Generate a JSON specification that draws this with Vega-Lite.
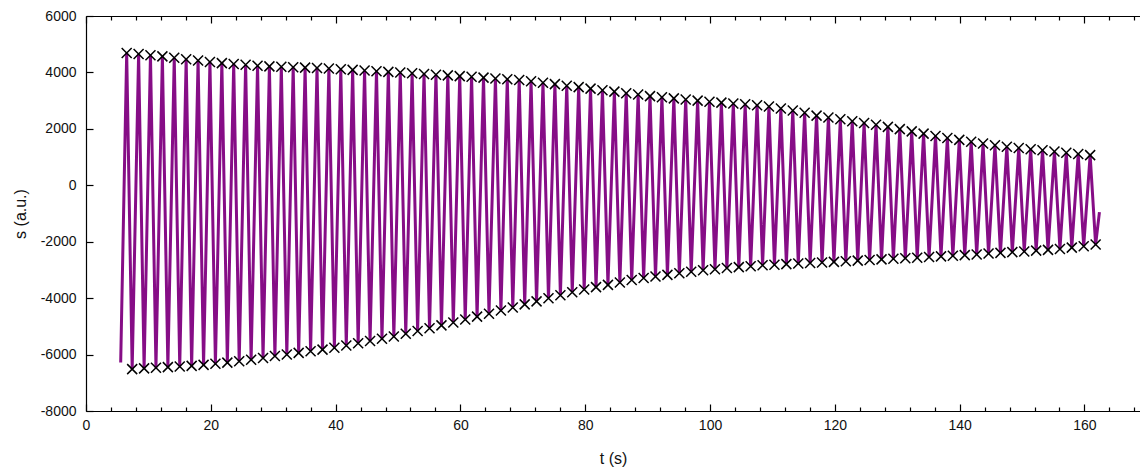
{
  "$schema": "https://vega.github.io/schema/vega-lite/v6.json",
  "autosize": "none",
  "width": 1054,
  "height": 395,
  "padding": {"left": 86, "top": 16, "right": 0, "bottom": 59},
  "background": "white",
  "view": {"stroke": null},
  "config": {
    "font": "Liberation Sans",
    "axis": {
      "labelFont": "Liberation Sans", "labelFontSize": 14, "labelColor": "#111",
      "titleFont": "Liberation Sans", "titleFontSize": 16, "titleFontWeight": "normal", "titleColor": "#111",
      "domainColor": "#000", "domainWidth": 1.2, "tickColor": "#000", "tickWidth": 1.2, "grid": false
    }
  },
  "data": {"values": [
    {"t":5.56,"s":-6280,"m":0},
    {"t":6.52,"s":4690,"m":1},{"t":7.40,"s":-6515,"m":1},
    {"t":8.43,"s":4650,"m":1},{"t":9.31,"s":-6490,"m":1},
    {"t":10.33,"s":4610,"m":1},{"t":11.21,"s":-6470,"m":1},
    {"t":12.24,"s":4570,"m":1},{"t":13.12,"s":-6445,"m":1},
    {"t":14.14,"s":4520,"m":1},{"t":15.02,"s":-6425,"m":1},
    {"t":16.05,"s":4470,"m":1},{"t":16.93,"s":-6400,"m":1},
    {"t":17.96,"s":4420,"m":1},{"t":18.84,"s":-6365,"m":1},
    {"t":19.86,"s":4370,"m":1},{"t":20.74,"s":-6325,"m":1},
    {"t":21.77,"s":4330,"m":1},{"t":22.65,"s":-6285,"m":1},
    {"t":23.67,"s":4300,"m":1},{"t":24.55,"s":-6235,"m":1},
    {"t":25.58,"s":4270,"m":1},{"t":26.46,"s":-6185,"m":1},
    {"t":27.49,"s":4240,"m":1},{"t":28.37,"s":-6120,"m":1},
    {"t":29.39,"s":4215,"m":1},{"t":30.27,"s":-6050,"m":1},
    {"t":31.30,"s":4200,"m":1},{"t":32.18,"s":-5995,"m":1},
    {"t":33.20,"s":4185,"m":1},{"t":34.08,"s":-5940,"m":1},
    {"t":35.11,"s":4170,"m":1},{"t":35.99,"s":-5880,"m":1},
    {"t":37.02,"s":4155,"m":1},{"t":37.90,"s":-5825,"m":1},
    {"t":38.92,"s":4140,"m":1},{"t":39.80,"s":-5760,"m":1},
    {"t":40.83,"s":4115,"m":1},{"t":41.71,"s":-5680,"m":1},
    {"t":42.73,"s":4090,"m":1},{"t":43.61,"s":-5600,"m":1},
    {"t":44.64,"s":4065,"m":1},{"t":45.52,"s":-5520,"m":1},
    {"t":46.55,"s":4045,"m":1},{"t":47.43,"s":-5440,"m":1},
    {"t":48.45,"s":4020,"m":1},{"t":49.33,"s":-5360,"m":1},
    {"t":50.36,"s":3995,"m":1},{"t":51.24,"s":-5265,"m":1},
    {"t":52.26,"s":3970,"m":1},{"t":53.14,"s":-5165,"m":1},
    {"t":54.17,"s":3945,"m":1},{"t":55.05,"s":-5065,"m":1},
    {"t":56.08,"s":3920,"m":1},{"t":56.96,"s":-4965,"m":1},
    {"t":57.98,"s":3895,"m":1},{"t":58.86,"s":-4860,"m":1},
    {"t":59.89,"s":3870,"m":1},{"t":60.77,"s":-4760,"m":1},
    {"t":61.79,"s":3845,"m":1},{"t":62.67,"s":-4655,"m":1},
    {"t":63.70,"s":3815,"m":1},{"t":64.58,"s":-4550,"m":1},
    {"t":65.61,"s":3785,"m":1},{"t":66.49,"s":-4440,"m":1},
    {"t":67.51,"s":3760,"m":1},{"t":68.39,"s":-4330,"m":1},
    {"t":69.42,"s":3730,"m":1},{"t":70.30,"s":-4220,"m":1},
    {"t":71.32,"s":3685,"m":1},{"t":72.20,"s":-4115,"m":1},
    {"t":73.23,"s":3635,"m":1},{"t":74.11,"s":-4005,"m":1},
    {"t":75.14,"s":3585,"m":1},{"t":76.02,"s":-3900,"m":1},
    {"t":77.04,"s":3530,"m":1},{"t":77.92,"s":-3790,"m":1},
    {"t":78.95,"s":3480,"m":1},{"t":79.83,"s":-3695,"m":1},
    {"t":80.85,"s":3425,"m":1},{"t":81.73,"s":-3610,"m":1},
    {"t":82.76,"s":3370,"m":1},{"t":83.64,"s":-3530,"m":1},
    {"t":84.67,"s":3320,"m":1},{"t":85.55,"s":-3445,"m":1},
    {"t":86.57,"s":3265,"m":1},{"t":87.45,"s":-3360,"m":1},
    {"t":88.48,"s":3215,"m":1},{"t":89.36,"s":-3285,"m":1},
    {"t":90.38,"s":3160,"m":1},{"t":91.26,"s":-3230,"m":1},
    {"t":92.29,"s":3120,"m":1},{"t":93.17,"s":-3175,"m":1},
    {"t":94.20,"s":3080,"m":1},{"t":95.08,"s":-3120,"m":1},
    {"t":96.10,"s":3040,"m":1},{"t":96.98,"s":-3065,"m":1},
    {"t":98.01,"s":3000,"m":1},{"t":98.89,"s":-3010,"m":1},
    {"t":99.91,"s":2960,"m":1},{"t":100.79,"s":-2975,"m":1},
    {"t":101.82,"s":2930,"m":1},{"t":102.70,"s":-2935,"m":1},
    {"t":103.73,"s":2900,"m":1},{"t":104.61,"s":-2900,"m":1},
    {"t":105.63,"s":2870,"m":1},{"t":106.51,"s":-2870,"m":1},
    {"t":107.54,"s":2840,"m":1},{"t":108.42,"s":-2835,"m":1},
    {"t":109.44,"s":2790,"m":1},{"t":110.32,"s":-2815,"m":1},
    {"t":111.35,"s":2720,"m":1},{"t":112.23,"s":-2795,"m":1},
    {"t":113.26,"s":2650,"m":1},{"t":114.14,"s":-2775,"m":1},
    {"t":115.16,"s":2570,"m":1},{"t":116.04,"s":-2755,"m":1},
    {"t":117.07,"s":2470,"m":1},{"t":117.95,"s":-2735,"m":1},
    {"t":118.97,"s":2400,"m":1},{"t":119.85,"s":-2715,"m":1},
    {"t":120.88,"s":2340,"m":1},{"t":121.76,"s":-2695,"m":1},
    {"t":122.79,"s":2270,"m":1},{"t":123.67,"s":-2670,"m":1},
    {"t":124.69,"s":2210,"m":1},{"t":125.57,"s":-2650,"m":1},
    {"t":126.60,"s":2145,"m":1},{"t":127.48,"s":-2625,"m":1},
    {"t":128.50,"s":2070,"m":1},{"t":129.38,"s":-2605,"m":1},
    {"t":130.41,"s":1990,"m":1},{"t":131.29,"s":-2585,"m":1},
    {"t":132.32,"s":1910,"m":1},{"t":133.20,"s":-2565,"m":1},
    {"t":134.22,"s":1830,"m":1},{"t":135.10,"s":-2545,"m":1},
    {"t":136.13,"s":1750,"m":1},{"t":137.01,"s":-2520,"m":1},
    {"t":138.03,"s":1675,"m":1},{"t":138.91,"s":-2500,"m":1},
    {"t":139.94,"s":1610,"m":1},{"t":140.82,"s":-2475,"m":1},
    {"t":141.85,"s":1545,"m":1},{"t":142.73,"s":-2450,"m":1},
    {"t":143.75,"s":1480,"m":1},{"t":144.63,"s":-2420,"m":1},
    {"t":145.66,"s":1420,"m":1},{"t":146.54,"s":-2395,"m":1},
    {"t":147.56,"s":1365,"m":1},{"t":148.44,"s":-2370,"m":1},
    {"t":149.47,"s":1320,"m":1},{"t":150.35,"s":-2345,"m":1},
    {"t":151.38,"s":1280,"m":1},{"t":152.26,"s":-2315,"m":1},
    {"t":153.28,"s":1240,"m":1},{"t":154.16,"s":-2290,"m":1},
    {"t":155.19,"s":1195,"m":1},{"t":156.07,"s":-2255,"m":1},
    {"t":157.09,"s":1150,"m":1},{"t":157.97,"s":-2210,"m":1},
    {"t":159.00,"s":1110,"m":1},{"t":159.88,"s":-2160,"m":1},
    {"t":160.91,"s":1070,"m":1},{"t":161.79,"s":-2100,"m":1},
    {"t":162.40,"s":-950,"m":0}
  ]},
  "layer": [
    {
      "mark": {"type": "line", "color": "#800080", "strokeWidth": 3, "opacity": 0.95, "clip": true},
      "encoding": {
        "x": {"field": "t", "type": "quantitative",
          "scale": {"domain": [0, 168.9], "nice": false, "zero": false},
          "axis": {"orient": "bottom", "title": "t (s)", "titlePadding": 15,
            "values": [0,4,8,12,16,20,24,28,32,36,40,44,48,52,56,60,64,68,72,76,80,84,88,92,96,100,104,108,112,116,120,124,128,132,136,140,144,148,152,156,160,164,168],
            "labelExpr": "datum.value % 20 === 0 ? datum.label : ''",
            "tickSize": {"condition": {"test": "datum.value % 20 === 0", "value": -7}, "value": -4},
            "labelPadding": 14, "labelFlush": false, "labelOverlap": false}},
        "y": {"field": "s", "type": "quantitative",
          "scale": {"domain": [-8000, 6000], "nice": false, "zero": false},
          "axis": {"title": "s (a.u.)", "titlePadding": 12, "values": [-8000,-6000,-4000,-2000,0,2000,4000,6000],
            "labelExpr": "toString(datum.value)", "tickSize": -7, "labelPadding": 17, "labelFlush": false}}
      }
    },
    {
      "transform": [{"filter": "datum.m === 1"}],
      "mark": {"type": "point", "shape": "M-1,-1L1,1M-1,1L1,-1", "size": 100, "stroke": "#000", "strokeWidth": 1.5, "filled": false, "opacity": 1},
      "encoding": {
        "x": {"field": "t", "type": "quantitative",
          "scale": {"domain": [0, 168.9], "nice": false, "zero": false},
          "axis": {"orient": "top", "title": null, "labels": false,
            "values": [0,4,8,12,16,20,24,28,32,36,40,44,48,52,56,60,64,68,72,76,80,84,88,92,96,100,104,108,112,116,120,124,128,132,136,140,144,148,152,156,160,164,168],
            "tickSize": {"condition": {"test": "datum.value % 20 === 0", "value": -7}, "value": -4}}},
        "y": {"field": "s", "type": "quantitative",
          "scale": {"domain": [-8000, 6000], "nice": false, "zero": false},
          "axis": {"title": "s (a.u.)", "titlePadding": 12, "values": [-8000,-6000,-4000,-2000,0,2000,4000,6000],
            "labelExpr": "toString(datum.value)", "tickSize": -7, "labelPadding": 17, "labelFlush": false}}
      }
    }
  ],
  "resolve": {"axis": {"x": "independent"}}
}
